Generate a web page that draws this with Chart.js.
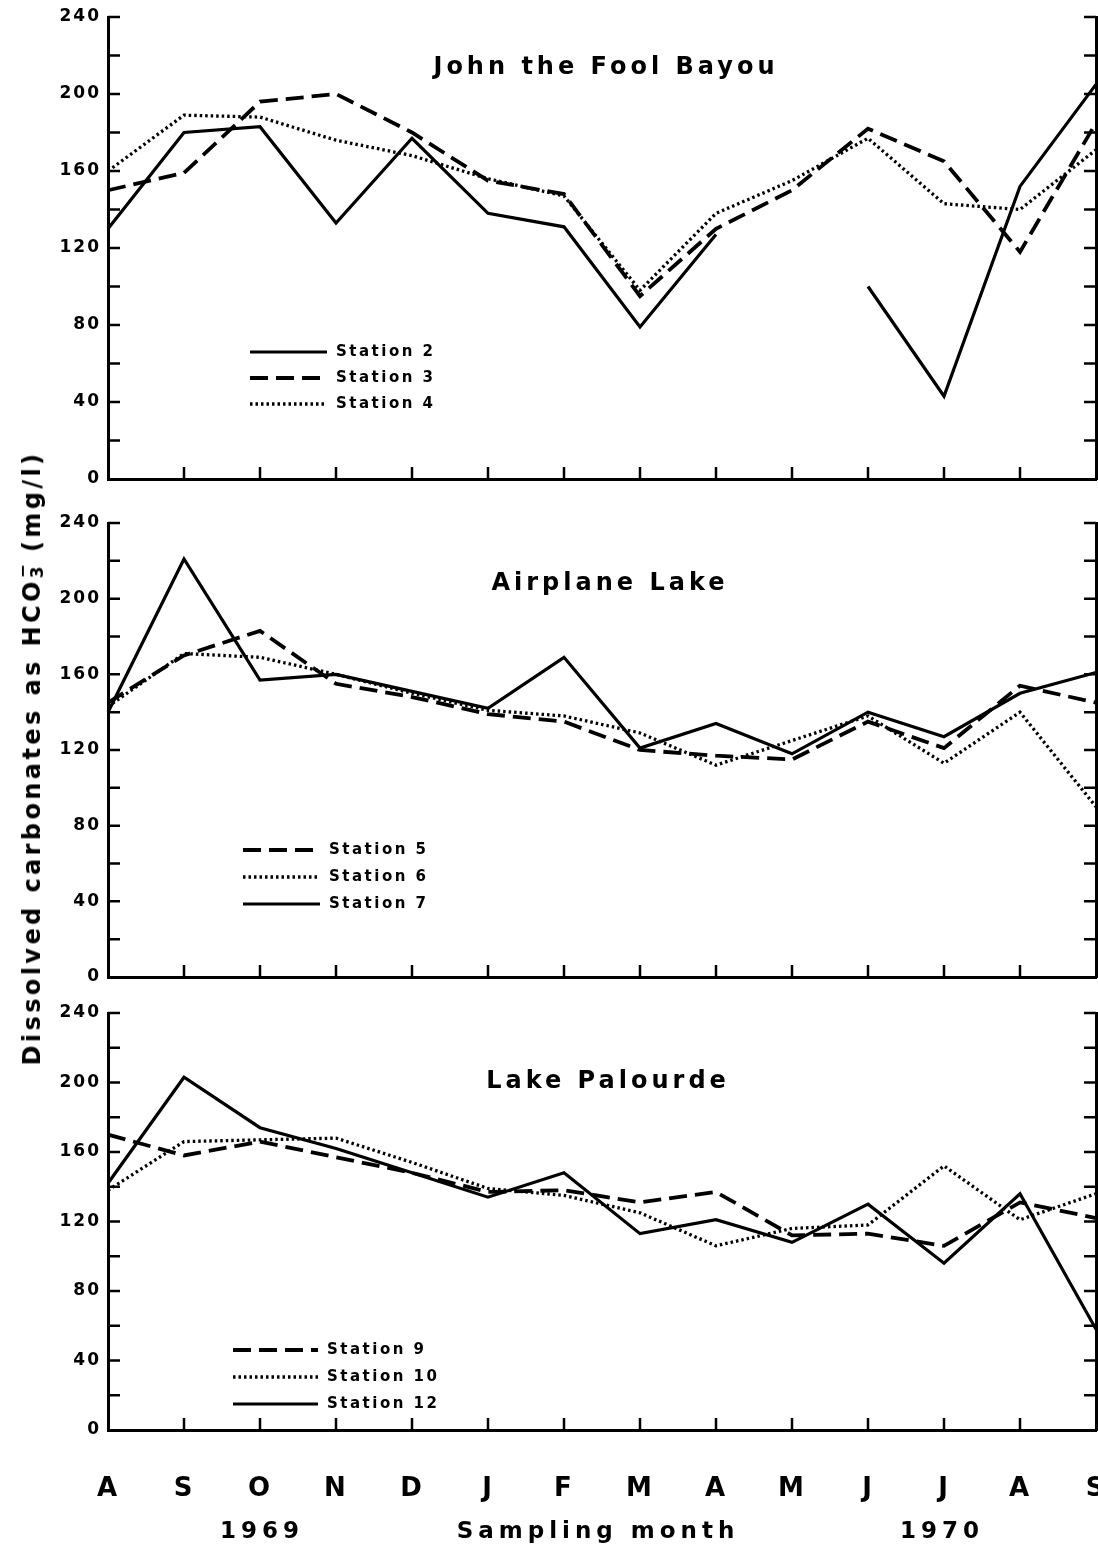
<!DOCTYPE html>
<html><head><meta charset="utf-8">
<script src="https://cdn.jsdelivr.net/npm/chart.js@4.4.0/dist/chart.umd.min.js"></script>
<style>
body{margin:0;background:#fff;width:1098px;height:1550px;position:relative;overflow:hidden;font-family:"DejaVu Sans",sans-serif;font-weight:bold;color:#000;}
canvas{position:absolute;left:0;}
.t{position:absolute;white-space:nowrap;transform:translate(-50%,-50%);}
.ttl{font-size:24px;letter-spacing:4px;}
.ax{font-size:23px;letter-spacing:5px;}
.yt{font-size:24px;letter-spacing:3.4px;transform:translate(-50%,-50%) rotate(-90deg);}
.ss{display:inline-block;position:relative;width:0.6em;height:1em;vertical-align:middle;}
.ss .sp{position:absolute;left:0;top:-0.55em;font-size:0.7em;}
.ss .sb{position:absolute;left:0;top:0.35em;font-size:0.7em;}
</style></head><body>
<canvas id="c1" width="1098" height="490" style="top:0px"></canvas>
<canvas id="c2" width="1098" height="500" style="top:490px"></canvas>
<canvas id="c3" width="1098" height="560" style="top:990px"></canvas>

<div class="t ttl" style="left:606px;top:66px">John the Fool Bayou</div>
<div class="t ttl" style="left:610px;top:582px">Airplane Lake</div>
<div class="t ttl" style="left:608px;top:1080px">Lake Palourde</div>
<div class="t yt" style="left:32px;top:758px">Dissolved carbonates as HCO<span class="ss"><span class="sp">−</span><span class="sb">3</span></span> (mg/l)</div>
<div class="t ax" style="left:262px;top:1530px">1969</div>
<div class="t ax" style="left:598px;top:1530px">Sampling month</div>
<div class="t ax" style="left:942px;top:1530px">1970</div>

<script>
// ---- data ----
const months = ['A','S','O','N','D','J','F','M','A','M','J','J','A','S'];
const yTickValues = [0,40,80,120,160,200,240];
const minorStep = 20;

// John the Fool Bayou
const station2 = [130,180,183,133,177,138,131,79,127,null,100,43,152,205];
const station3 = [150,159,196,200,180,155,148,95,130,150,182,165,118,185];
const station4 = [160,189,188,176,168,156,147,98,138,155,177,143,140,171];
// Airplane Lake
const station5 = [145,170,183,155,148,139,135,120,117,115,135,121,154,145];
const station6 = [143,171,169,160,150,141,138,129,112,125,138,113,140,90];
const station7 = [140,221,157,160,151,142,169,121,134,118,140,127,150,161];
// Lake Palourde
const station9  = [170,158,166,157,148,137,138,131,137,112,113,106,131,122];
const station10 = [138,166,167,168,154,139,135,125,106,116,118,152,121,136];
const station12 = [142,203,174,162,148,134,148,113,121,108,130,96,136,58];

const STYLES = {
  solid:  {borderDash:[],     borderWidth:3.2, borderCapStyle:'butt'},
  dashed: {borderDash:[18,8], borderWidth:3.8, borderCapStyle:'butt'},
  dotted: {borderDash:[2.5,3],borderWidth:3.3, borderCapStyle:'butt'}
};

function ds(label, data, style){
  return Object.assign({label, data, borderColor:'#000', backgroundColor:'#000',
    pointRadius:0, tension:0, fill:false, spanGaps:false}, STYLES[style]);
}

const inTicks = {
  id:'inTicks',
  beforeDraw(chart){ chart.ctx.letterSpacing = '2px'; },
  afterDraw(chart){
    const {ctx, chartArea:a, scales} = chart;
    ctx.save();
    ctx.strokeStyle = '#000'; ctx.lineWidth = 2.5;
    ctx.beginPath();
    for (let v = minorStep; v <= 240; v += minorStep){
      const y = scales.y.getPixelForValue(v);
      ctx.moveTo(a.left, y); ctx.lineTo(a.left + 12, y);
      ctx.moveTo(a.right, y); ctx.lineTo(a.right - 12, y);
    }
    for (let i = 1; i < months.length - 1; i++){
      const x = scales.x.getPixelForValue(i);
      ctx.moveTo(x, a.bottom); ctx.lineTo(x, a.bottom - 12);
    }
    ctx.stroke();
    ctx.restore();
  }
};

const inLegend = {
  id:'inLegend',
  afterDraw(chart, args, opts){
    const {ctx, chartArea:a} = chart;
    ctx.save();
    ctx.letterSpacing = '2.5px';
    ctx.font = 'bold 15px "DejaVu Sans"';
    ctx.fillStyle = '#000'; ctx.strokeStyle = '#000';
    ctx.textBaseline = 'middle';
    chart.data.datasets.forEach((d, i) => {
      const y = a.top + opts.y + i * opts.gap;
      ctx.lineWidth = d.borderWidth;
      ctx.setLineDash(d.borderDash || []);
      ctx.lineCap = d.borderCapStyle;
      ctx.beginPath();
      ctx.moveTo(a.left + opts.x0, y); ctx.lineTo(a.left + opts.x1, y);
      ctx.stroke();
      ctx.setLineDash([]);
      ctx.fillText(d.label, a.left + opts.x1 + 9, y);
    });
    ctx.restore();
  }
};

function makeChart(id, datasets, cfg){
  return new Chart(document.getElementById(id), {
    type:'line',
    data:{labels:months, datasets},
    plugins:[inTicks, inLegend],
    options:{
      responsive:false, animation:false,
      layout:{padding:{top:cfg.top, left:0, right:0, bottom:0}},
      plugins:{legend:{display:false}, tooltip:{enabled:false}, title:{display:false},
        inLegend:cfg.legend},
      scales:{
        x:{type:'category', offset:false,
          grid:{display:false, drawTicks:false},
          border:{display:true, width:3, color:'#000'},
          ticks:{display:cfg.showX, color:'#000', font:{family:'DejaVu Sans', size:26, weight:'bold'},
            padding:44, maxRotation:0, autoSkip:false},
          afterFit(s){ s.height = cfg.xh; s.paddingLeft = 0; s.paddingRight = 0; }},
        y:{position:'left', min:0, max:240,
          afterBuildTicks(s){ s.ticks = yTickValues.map(v => ({value:v})); },
          grid:{display:false, drawTicks:false},
          border:{display:true, width:3, color:'#000'},
          ticks:{color:'#000', font:{family:'DejaVu Sans', size:17, weight:'bold'}, padding:7},
          afterFit(s){ s.width = 108; s.paddingTop = 0; s.paddingBottom = 0; }},
        y2:{position:'right', min:0, max:240,
          grid:{display:false, drawTicks:false},
          border:{display:true, width:3, color:'#000'},
          ticks:{display:false},
          afterFit(s){ s.width = 2; }}
      }
    }
  });
}

makeChart('c1', [ds('Station 2', station2, 'solid'), ds('Station 3', station3, 'dashed'), ds('Station 4', station4, 'dotted')],
  {top:17, xh:11, showX:false, legend:{x0:142, x1:219, y:335, gap:26}});
makeChart('c2', [ds('Station 5', station5, 'dashed'), ds('Station 6', station6, 'dotted'), ds('Station 7', station7, 'solid')],
  {top:33, xh:13, showX:false, legend:{x0:135, x1:212, y:327, gap:27}});
makeChart('c3', [ds('Station 9', station9, 'dashed'), ds('Station 10', station10, 'dotted'), ds('Station 12', station12, 'solid')],
  {top:23, xh:120, showX:true, legend:{x0:125, x1:210, y:337, gap:27}});
</script>
</body></html>
